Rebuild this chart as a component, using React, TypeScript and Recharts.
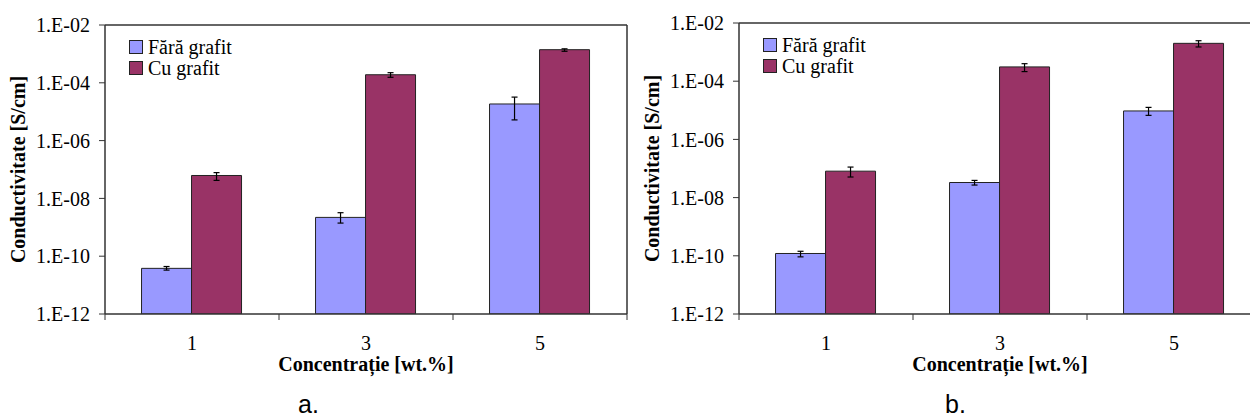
import { BarChart, Bar, XAxis, YAxis, ErrorBar, Legend, Label } from 'recharts';

const categories = ['1', '3', '5'];
const seriesNames = ['Fără grafit', 'Cu grafit'];
const yTicks = [1e-12, 1e-10, 1e-8, 1e-6, 1e-4, 1e-2];

// panel a.
const faraA = [3.8e-11, 2.2e-9, 1.85e-5];
const faraALow = [3.3e-11, 1.4e-9, 5.2e-6];
const faraAHigh = [4.4e-11, 3.2e-9, 3.2e-5];
const cuA = [6.2e-8, 1.9e-4, 1.4e-3];
const cuALow = [4.2e-8, 1.55e-4, 1.23e-3];
const cuAHigh = [7.8e-8, 2.24e-4, 1.5e-3];

// panel b.
const faraB = [1.2e-10, 3.3e-8, 9.5e-6];
const faraBLow = [9.2e-11, 2.7e-8, 6.7e-6];
const faraBHigh = [1.43e-10, 3.9e-8, 1.26e-5];
const cuB = [8.1e-8, 3.1e-4, 2.0e-3];
const cuBLow = [5.1e-8, 2.14e-4, 1.5e-3];
const cuBHigh = [1.12e-7, 4.0e-4, 2.46e-3];

const COLORS = ['#9999FF', '#993366'];
const SERIF = "'Liberation Serif', 'DejaVu Serif', serif";
const FS = 20;

const buildRows = (
  fara: number[], faraLow: number[], faraHigh: number[],
  cu: number[], cuLow: number[], cuHigh: number[],
) =>
  categories.map((c, i) => ({
    cat: c,
    fara: fara[i],
    faraErr: [fara[i] - faraLow[i], faraHigh[i] - fara[i]],
    cu: cu[i],
    cuErr: [cu[i] - cuLow[i], cuHigh[i] - cu[i]],
  }));

const fmtExp = (v: number) => {
  const e = Math.round(Math.log10(v));
  return `1.E-${String(-e).padStart(2, '0')}`;
};

// category label at the band centre, tick marks on the band edges
const CatTick = (props: any) => {
  const { x, y, payload, index, visibleTicksCount } = props;
  const half = payload.offset ?? 0;
  const last = index === (visibleTicksCount ?? 3) - 1;
  return (
    <g>
      <line x1={x - half} x2={x - half} y1={y} y2={y + 6} stroke="#333" />
      {last && <line x1={x + half} x2={x + half} y1={y} y2={y + 6} stroke="#333" />}
      <text x={x} y={y + 36} textAnchor="middle" fontFamily={SERIF} fontSize={FS} fill="#000">
        {payload.value}
      </text>
    </g>
  );
};

const LegendBox = () => (
  <div style={{ fontFamily: SERIF, fontSize: FS, color: '#000', lineHeight: '20.5px' }}>
    {seriesNames.map((n, i) => (
      <div key={n} style={{ display: 'flex', alignItems: 'center', whiteSpace: 'nowrap' }}>
        <span
          style={{
            display: 'inline-block', width: 12, height: 12, background: COLORS[i],
            border: '1px solid #222', marginRight: 5,
          }}
        />
        {n}
      </div>
    ))}
  </div>
);

type PanelProps = { rows: ReturnType<typeof buildRows>; left: number; top: number; tag: string; tagLeft: number };

const Panel = ({ rows, left, top, tag, tagLeft }: PanelProps) => (
  <div style={{ position: 'absolute', left, top: 0, width: 640, height: 417 }}>
    <BarChart
      width={640}
      height={417}
      data={rows}
      margin={{ top: top - 1, right: 12, bottom: 59, left: 0 }}
      barCategoryGap="21%"
      barGap={0}
    >
      <XAxis
        dataKey="cat"
        height={44}
        tickLine={false}
        tickSize={0}
        tickMargin={0}
        interval={0}
        axisLine={{ stroke: '#333', strokeWidth: 1.5 }}
        tick={<CatTick />}
      >
        <Label
          value="Concentrație [wt.%]"
          position="bottom"
          offset={-1}
          style={{ fontFamily: SERIF, fontSize: FS, fontWeight: 'bold', fill: '#000' }}
        />
      </XAxis>
      <XAxis xAxisId="top" orientation="top" dataKey="cat" height={1} tick={false} tickLine={false} axisLine={{ stroke: '#333', strokeWidth: 1.5 }} />
      <YAxis
        scale="log"
        type="number"
        domain={[1e-12, 1e-2]}
        ticks={yTicks}
        allowDataOverflow
        width={105}
        tickSize={6}
        tickMargin={9}
        interval={0}
        tickFormatter={fmtExp}
        axisLine={{ stroke: '#333', strokeWidth: 1.5 }}
        tickLine={{ stroke: '#333' }}
        tick={{ fill: '#000', fontFamily: SERIF, fontSize: FS }}
      >
        <Label
          value="Conductivitate [S/cm]"
          angle={-90}
          position="insideLeft"
          offset={18}
          style={{ textAnchor: 'middle', fontFamily: SERIF, fontSize: FS, fontWeight: 'bold', fill: '#000' }}
        />
      </YAxis>
      <YAxis
        yAxisId="right"
        orientation="right"
        width={1}
        tick={false}
        tickLine={false}
        axisLine={{ stroke: '#333', strokeWidth: 1.5 }}
      />
      <Legend
        layout="vertical"
        align="center"
        verticalAlign="middle"
        content={<LegendBox />}
        wrapperStyle={{ left: 129, top: top + 12, width: 'auto', height: 'auto' }}
      />
      <Bar dataKey="fara" name={seriesNames[0]} fill={COLORS[0]} stroke="#222" strokeWidth={1} isAnimationActive={false}>
        <ErrorBar dataKey="faraErr" width={3} stroke="#000" strokeWidth={1.2} isAnimationActive={false} />
      </Bar>
      <Bar dataKey="cu" name={seriesNames[1]} fill={COLORS[1]} stroke="#222" strokeWidth={1} isAnimationActive={false}>
        <ErrorBar dataKey="cuErr" width={3} stroke="#000" strokeWidth={1.2} isAnimationActive={false} />
      </Bar>
    </BarChart>
    <div
      style={{
        position: 'absolute', left: tagLeft, top: 391, lineHeight: '26px',
        fontFamily: "'Liberation Sans', Arial, sans-serif", fontSize: 25, color: '#000',
      }}
    >
      {tag}
    </div>
  </div>
);

export default function App() {
  const rowsA = buildRows(faraA, faraALow, faraAHigh, cuA, cuALow, cuAHigh);
  const rowsB = buildRows(faraB, faraBLow, faraBHigh, cuB, cuBLow, cuBHigh);
  return (
    <div style={{ position: 'relative', width: 1250, height: 417, overflow: 'hidden', background: '#fff' }}>
      <style>{'body{margin:0}'}</style>
      <Panel rows={rowsA} left={0} top={25} tag="a." tagLeft={298} />
      <Panel rows={rowsB} left={634} top={23} tag="b." tagLeft={311} />
    </div>
  );
}
